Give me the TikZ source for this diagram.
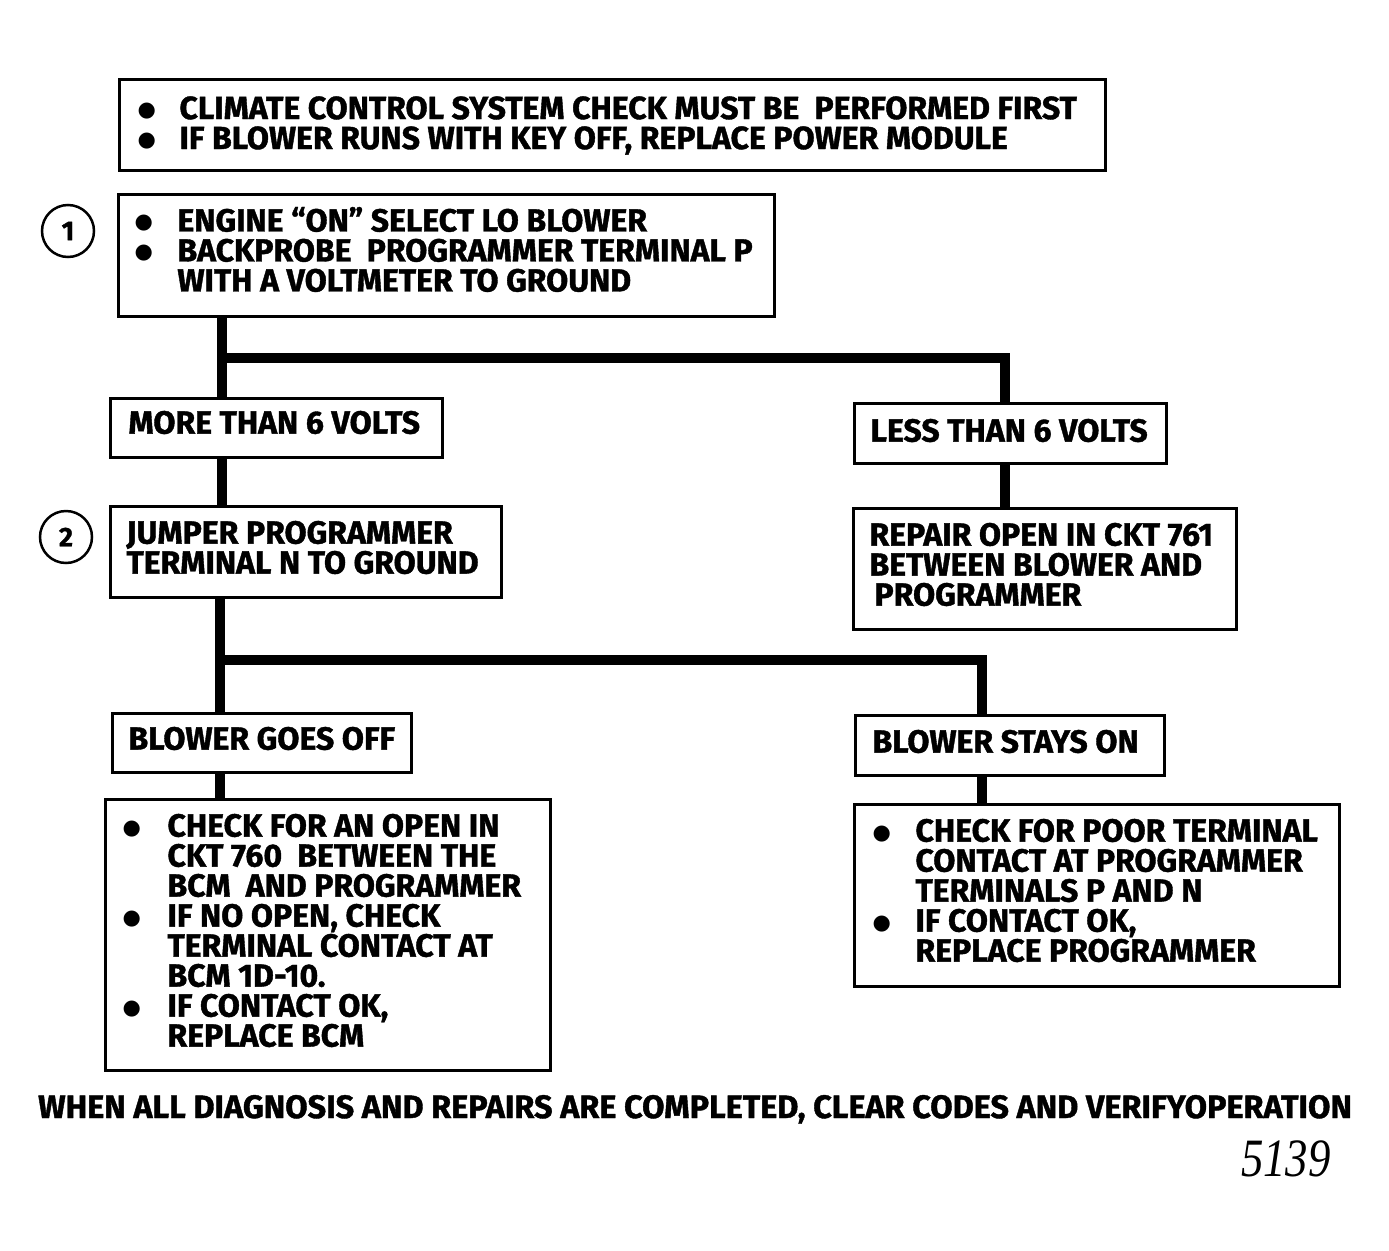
\documentclass[tikz,border=0pt]{standalone}
\usepackage{fontspec}
\setmainfont{Fira Sans}[BoldFeatures={FakeBold=1.2}]
\newfontfamily\dotfont{DejaVu Sans}
\newfontfamily\numfont{Liberation Serif}
\newcommand\bl[1]{\makebox[#1][l]{\raisebox{2.5pt}{\dotfont\fontsize{21pt}{21pt}\selectfont ●}}}
\newcommand\tx[3]{\raisebox{#2}[\height][\depth]{\parbox{#1}{\baselineskip=30pt\lineskiplimit=-100pt\lineskip=0pt\raggedright\noindent #3}}}
\begin{document}
\begin{tikzpicture}[x=1pt,y=-1pt,
  box/.style={draw, line width=3pt, inner ysep=0pt, anchor=north west,
    font=\bfseries\fontsize{32pt}{30pt}\selectfont},
  conn/.style={line width=10pt, line join=miter},
  num/.style={circle, draw, line width=2.5pt, minimum size=52pt, inner sep=0pt,
    font=\bfseries\fontsize{27pt}{27pt}\selectfont}]
\useasboundingbox (0,0) rectangle (1389,1250);

\node[box, inner xsep=18pt, minimum width=986pt, minimum height=91pt] (top) at (118,78)
 {\tx{950pt}{-0.5pt}{\mbox{\bl{42pt}CLIMATE CONTROL SYSTEM CHECK MUST BE\ \ PERFORMED FIRST}\\
  \mbox{\bl{42pt}IF BLOWER RUNS WITH KEY OFF, REPLACE POWER MODULE}}};

\node[box, inner xsep=16pt, minimum width=656pt, minimum height=122pt] (b1) at (117,193)
 {\tx{624pt}{6pt}{\mbox{\bl{43pt}ENGINE “ON” SELECT LO BLOWER}\\
  \mbox{\bl{43pt}BACKPROBE\ \ PROGRAMMER TERMINAL P}\\
  \mbox{\hspace*{43pt}WITH A VOLTMETER TO GROUND}}};
\node[num] (c1) at (68,231) {1};

\node[box, inner xsep=18pt, minimum width=332pt, minimum height=59pt] (more) at (109,397)
 {\tx{296pt}{5.5pt}{\mbox{MORE THAN 6 VOLTS}}};
\node[box, inner xsep=16pt, minimum width=312pt, minimum height=60pt] (less) at (853,402)
 {\tx{280pt}{3pt}{\mbox{LESS THAN 6 VOLTS}}};

\node[box, inner xsep=16pt, minimum width=391pt, minimum height=91pt] (jump) at (109,505)
 {\tx{359pt}{4.5pt}{\mbox{JUMPER PROGRAMMER}\\ \mbox{TERMINAL N TO GROUND}}};
\node[num] (c2) at (66,537) {2};

\node[box, inner xsep=16pt, minimum width=383pt, minimum height=121pt] (rep) at (852,507)
 {\tx{351pt}{4.5pt}{\mbox{REPAIR OPEN IN CKT 761}\\ \mbox{BETWEEN BLOWER AND}\\ \mbox{\hspace*{5pt}PROGRAMMER}}};

\node[box, inner xsep=16pt, minimum width=299pt, minimum height=59pt] (goes) at (111,712)
 {\tx{267pt}{4.5pt}{\mbox{BLOWER GOES OFF}}};
\node[box, inner xsep=17pt, minimum width=309pt, minimum height=60pt] (stays) at (854,714)
 {\tx{275pt}{4pt}{\mbox{BLOWER STAYS ON}}};

\node[box, inner xsep=17pt, minimum width=445pt, minimum height=271pt] (lb) at (104,798)
 {\tx{411pt}{4.5pt}{\mbox{\bl{45pt}CHECK FOR AN OPEN IN}\\
  \mbox{\hspace*{45pt}CKT 760\ \ BETWEEN THE}\\
  \mbox{\hspace*{45pt}BCM\ \ AND PROGRAMMER}\\
  \mbox{\bl{45pt}IF NO OPEN, CHECK}\\
  \mbox{\hspace*{45pt}TERMINAL CONTACT AT}\\
  \mbox{\hspace*{45pt}BCM 1D-10.}\\
  \mbox{\bl{45pt}IF CONTACT OK,}\\
  \mbox{\hspace*{45pt}REPLACE BCM}}};

\node[box, inner xsep=18pt, minimum width=485pt, minimum height=182pt] (rb) at (853,803)
 {\tx{449pt}{5pt}{\mbox{\bl{43pt}CHECK FOR POOR TERMINAL}\\
  \mbox{\hspace*{43pt}CONTACT AT PROGRAMMER}\\
  \mbox{\hspace*{43pt}TERMINALS P AND N}\\
  \mbox{\bl{43pt}IF CONTACT OK,}\\
  \mbox{\hspace*{43pt}REPLACE PROGRAMMER}}};

\node[anchor=base west, inner sep=0pt, font=\bfseries\fontsize{32.4pt}{32pt}\selectfont] (foot) at (38,1118)
 {WHEN ALL DIAGNOSIS AND REPAIRS ARE COMPLETED, CLEAR CODES AND VERIFYOPERATION};
\node[anchor=base east, inner sep=0pt, font=\numfont\itshape\fontsize{54pt}{54pt}\selectfont] (code) at (1331,1176)
 {\scalebox{0.83}[1]{5139}};

\coordinate (j1) at (222,358);
\coordinate (k1) at (1005,358);
\coordinate (j2) at (220,660);
\coordinate (k2) at (982,660);
\draw[conn] (b1.south -| j1) -- (more.north -| j1);
\draw[conn] (j1) -- (k1) -- (less.north -| k1);
\draw[conn] (more.south -| j1) -- (jump.north -| j1);
\draw[conn] (less.south -| k1) -- (rep.north -| k1);
\draw[conn] (jump.south -| j2) -- (goes.north -| j2);
\draw[conn] (j2) -- (k2) -- (stays.north -| k2);
\draw[conn] (goes.south -| j2) -- (lb.north -| j2);
\draw[conn] (stays.south -| k2) -- (rb.north -| k2);
\end{tikzpicture}
\end{document}
